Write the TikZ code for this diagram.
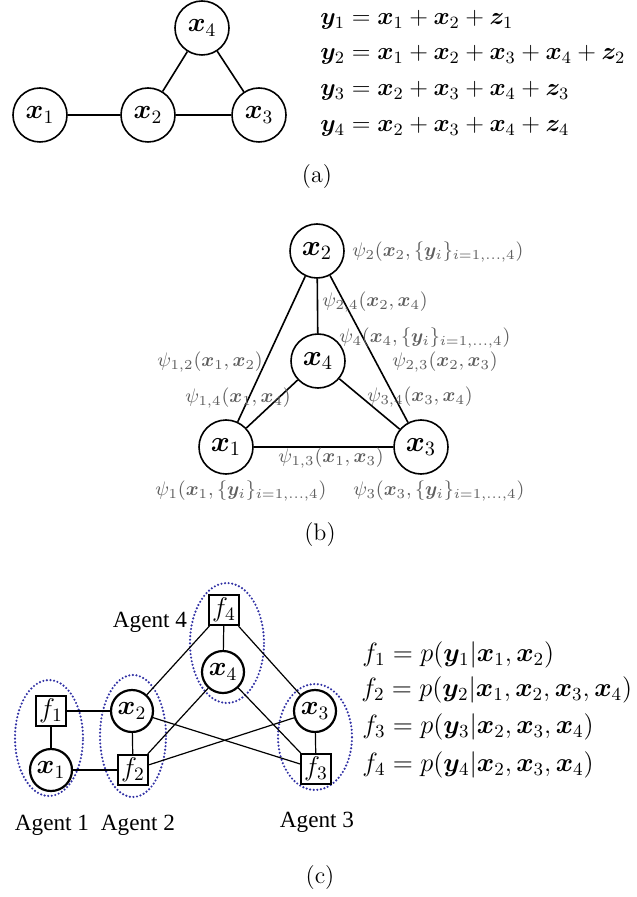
\documentclass[tikz,border=0pt]{standalone}
\usepackage{fix-cm}
\usepackage[no-math]{fontspec}
\usepackage{bm}
\newfontfamily\agentfont{Liberation Serif}
\definecolor{agentblue}{RGB}{50,50,165}
\definecolor{psigray}{RGB}{95,95,95}

\begin{document}
\begin{tikzpicture}[x=0.5pt, y=-0.5pt,
  var/.style={draw, circle, line width=0.8pt, minimum size=27pt, inner sep=0pt,
              font=\fontsize{13.5}{15}\selectfont},
  bvar/.style={var, font=\fontsize{14.5}{16}\selectfont},
  cvar/.style={draw, circle, line width=1.1pt, minimum size=21pt, inner sep=0pt,
               font=\fontsize{13.5}{15}\selectfont},
  factor/.style={draw, rectangle, line width=1.1pt, minimum size=15pt, inner sep=0pt,
                 font=\fontsize{13.5}{15}\selectfont},
  edge/.style={line width=0.8pt},
  cedge/.style={line width=0.6pt},
  eqa/.style={anchor=west, inner sep=0pt, font=\fontsize{12.3}{14}\selectfont},
  eqc/.style={anchor=west, inner sep=0pt, font=\fontsize{13.2}{15}\selectfont},
  psi/.style={anchor=west, inner sep=0pt, text=psigray, font=\fontsize{9.8}{11}\selectfont},
  caption/.style={inner sep=0pt, font=\fontsize{12}{14}\selectfont},
  agent/.style={inner sep=0pt, font=\agentfont\fontsize{11.6}{13}\selectfont},
  group/.style={draw=agentblue, line width=1.2pt, line cap=round, dash pattern=on 0pt off 1.8pt},
]
  \useasboundingbox (0,0) rectangle (636,897);

  % (a) graph
  \node[var] (ax4) at (202,28) {$\bm{x}_4$};
  \node[var] (ax1) at (40,115) {$\bm{x}_1$};
  \node[var] (ax2) at (148,115) {$\bm{x}_2$};
  \node[var] (ax3) at (259,115) {$\bm{x}_3$};
  \draw[edge] (ax1) -- (ax2);
  \draw[edge] (ax2) -- (ax3);
  \draw[edge] (ax2) -- (ax4);
  \draw[edge] (ax4) -- (ax3);

  % (a) observations
  \node[eqa] (eqa1) at (320,20) {$\bm{y}_1 = \bm{x}_1 + \bm{x}_2 + \bm{z}_1$};
  \node[eqa] (eqa2) at (320,55) {$\bm{y}_2 = \bm{x}_1 + \bm{x}_2 + \bm{x}_3 + \bm{x}_4 + \bm{z}_2$};
  \node[eqa] (eqa3) at (320,91) {$\bm{y}_3 = \bm{x}_2 + \bm{x}_3 + \bm{x}_4 + \bm{z}_3$};
  \node[eqa] (eqa4) at (320,127) {$\bm{y}_4 = \bm{x}_2 + \bm{x}_3 + \bm{x}_4 + \bm{z}_4$};
  \node[caption] (capa) at (317,177) {(a)};

  % (b) pairwise graph
  \node[bvar] (bx2) at (317,251) {$\bm{x}_2$};
  \node[bvar] (bx4) at (318,361) {$\bm{x}_4$};
  \node[bvar] (bx1) at (226,447) {$\bm{x}_1$};
  \node[bvar] (bx3) at (421,447) {$\bm{x}_3$};
  \draw[edge] (bx2) -- (bx1);
  \draw[edge] (bx2) -- (bx4);
  \draw[edge] (bx2) -- (bx3);
  \draw[edge] (bx4) -- (bx1);
  \draw[edge] (bx4) -- (bx3);
  \draw[edge] (bx1) -- (bx3);

  % (b) potentials
  \node[psi] (psi2) at (352,252) {$\psi_2(\bm{x}_2,\{\bm{y}_i\}_{i=1,\ldots,4})$};
  \node[psi] (psi24) at (322,302) {$\psi_{2,4}(\bm{x}_2,\bm{x}_4)$};
  \node[psi] (psi4) at (339,338) {$\psi_4(\bm{x}_4,\{\bm{y}_i\}_{i=1,\ldots,4})$};
  \node[psi] (psi12) at (157,362) {$\psi_{1,2}(\bm{x}_1,\bm{x}_2)$};
  \node[psi] (psi23) at (392,362) {$\psi_{2,3}(\bm{x}_2,\bm{x}_3)$};
  \node[psi] (psi14) at (185,398) {$\psi_{1,4}(\bm{x}_1,\bm{x}_4)$};
  \node[psi] (psi34) at (367,397) {$\psi_{3,4}(\bm{x}_3,\bm{x}_4)$};
  \node[psi] (psi13) at (278,458) {$\psi_{1,3}(\bm{x}_1,\bm{x}_3)$};
  \node[psi] (psi1) at (155,491) {$\psi_1(\bm{x}_1,\{\bm{y}_i\}_{i=1,\ldots,4})$};
  \node[psi] (psi3) at (353,491) {$\psi_3(\bm{x}_3,\{\bm{y}_i\}_{i=1,\ldots,4})$};
  \node[caption] (capb) at (320,535) {(b)};

  % (c) agents
  \draw[group] (49,738) ellipse [x radius=17pt, y radius=29pt];
  \draw[group] (133,736) ellipse [x radius=16.5pt, y radius=30.5pt];
  \draw[group] (227,643) ellipse [x radius=18.5pt, y radius=30pt];
  \draw[group] (315,737) ellipse [x radius=18.5pt, y radius=26.5pt];

  % (c) factor graph
  \node[factor] (cf1) at (51,711) {$f_1$};
  \node[cvar] (cx1) at (51,770) {$\bm{x}_1$};
  \node[cvar] (cx2) at (132,711) {$\bm{x}_2$};
  \node[factor] (cf2) at (133,770) {$f_2$};
  \node[factor] (cf4) at (224,610) {$f_4$};
  \node[cvar] (cx4) at (223,672) {$\bm{x}_4$};
  \node[cvar] (cx3) at (315,711) {$\bm{x}_3$};
  \node[factor] (cf3) at (316,769) {$f_3$};
  \draw[cedge] (cf1) -- (cx1);
  \draw[cedge] (cf1) -- (cx2);
  \draw[cedge] (cx1) -- (cf2);
  \draw[cedge] (cx2) -- (cf2);
  \draw[cedge] (cf4) -- (cx4);
  \draw[cedge] (cx3) -- (cf3);
  \draw[cedge] (cx2) -- (cf4);
  \draw[cedge] (cf2) -- (cx4);
  \draw[cedge] (cf2) -- (cx3);
  \draw[cedge] (cx2) -- (cf3);
  \draw[cedge] (cf4) -- (cx3);
  \draw[cedge] (cx4) -- (cf3);

  \node[agent] (ag4) at (150,622) {Agent 4};
  \node[agent] (ag1) at (52,825) {Agent 1};
  \node[agent] (ag2) at (138,825) {Agent 2};
  \node[agent] (ag3) at (317,822) {Agent 3};

  % (c) factors
  \node[eqc] (eqc1) at (362,655) {$f_1 = p(\bm{y}_1|\bm{x}_1,\bm{x}_2)$};
  \node[eqc] (eqc2) at (361,690) {$f_2 = p(\bm{y}_2|\bm{x}_1,\bm{x}_2,\bm{x}_3,\bm{x}_4)$};
  \node[eqc] (eqc3) at (362,727) {$f_3 = p(\bm{y}_3|\bm{x}_2,\bm{x}_3,\bm{x}_4)$};
  \node[eqc] (eqc4) at (362,765) {$f_4 = p(\bm{y}_4|\bm{x}_2,\bm{x}_3,\bm{x}_4)$};
  \node[caption] (capc) at (320,878) {(c)};
\end{tikzpicture}
\end{document}
